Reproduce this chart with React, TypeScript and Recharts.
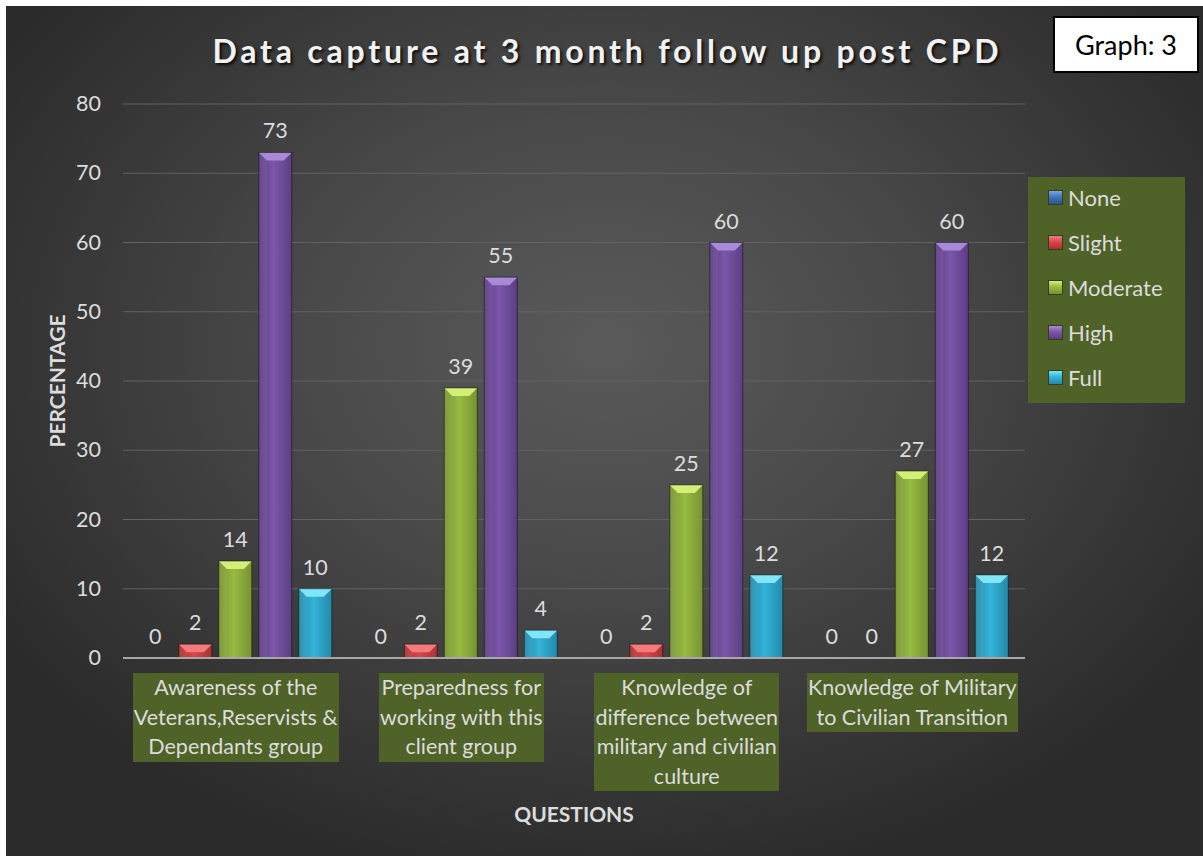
import React from "react";
import {
  BarChart,
  Bar,
  XAxis,
  YAxis,
  CartesianGrid,
  LabelList,
} from "recharts";

// question labels, split the way the original wraps them
const QUESTIONS = [
  ["Awareness of the", "Veterans,Reservists &", "Dependants group"],
  ["Preparedness for", "working with this", "client group"],
  ["Knowledge of", "difference between", "military and civilian", "culture"],
  ["Knowledge of Military", "to Civilian Transition"],
];

const NONE = [0, 0, 0, 0];
const SLIGHT = [2, 2, 2, 0];
const MODERATE = [14, 39, 25, 27];
const HIGH = [73, 55, 60, 60];
const FULL = [10, 4, 12, 12];

const Y_TICKS = [0, 10, 20, 30, 40, 50, 60, 70, 80];

const SERIES = [
  { key: "None", values: NONE, base: "#3f74bf", dark: "#2b558f", top: "#7aa6e6" },
  { key: "Slight", values: SLIGHT, base: "#d9474a", dark: "#a83234", top: "#f47b7d" },
  { key: "Moderate", values: MODERATE, base: "#98bb43", dark: "#76932f", top: "#d3ef76" },
  { key: "High", values: HIGH, base: "#7c56aa", dark: "#5c3e83", top: "#a98ad6" },
  { key: "Full", values: FULL, base: "#33b4da", dark: "#2489a8", top: "#80e6f8" },
];

const data = QUESTIONS.map((q, i) => {
  const row: any = { q: q.join("\n") };
  SERIES.forEach((s) => (row[s.key] = s.values[i]));
  return row;
});

const FONT = "Lato, 'Open Sans', sans-serif";
const TEXT = "#dcdcdc";
const OLIVE = "#4f6228";

function BevelBar(props: any) {
  const { x, y, width, height, s } = props;
  if (!height || height <= 0) return null;
  const b = Math.min(8, width / 4, height);
  return (
    <g>
      <rect x={x} y={y} width={width} height={height} fill={`url(#g-${s.key})`} />
      <polygon
        points={`${x},${y} ${x + width},${y} ${x + width - b},${y + b} ${x + b},${y + b}`}
        fill={s.top}
      />
      <polygon
        points={`${x},${y} ${x + b},${y + b} ${x + b},${y + height} ${x},${y + height}`}
        fill="rgba(255,255,255,0.06)"
      />
      <rect
        x={x}
        y={y}
        width={width}
        height={height}
        fill="none"
        stroke="rgba(0,0,0,0.45)"
        strokeWidth={1}
      />
    </g>
  );
}

function YTick({ x, y, payload }: any) {
  return (
    <text x={x} y={y} dy={7} textAnchor="end" fill={TEXT} fontSize={21.5} fontFamily={FONT}>
      {payload.value}
    </text>
  );
}

function QuestionTick({ x, y, payload }: any) {
  const lines = String(payload.value).split("\n");
  return (
    <foreignObject x={x - 160} y={y + 7} width={320} height={140}>
      <div style={{ textAlign: "center", fontFamily: FONT, fontSize: 21.5, lineHeight: "29.6px" }}>
        <span
          style={{
            display: "inline-block",
            background: OLIVE,
            color: TEXT,
            padding: "0 1px",
          }}
        >
          {lines.map((l, i) => (
            <div key={i}>{l}</div>
          ))}
        </span>
      </div>
    </foreignObject>
  );
}

function LegendBox() {
  return (
    <div
      style={{
        position: "absolute",
        left: 1022,
        top: 171,
        background: OLIVE,
        width: 157,
        height: 226,
        boxSizing: "border-box",
        fontFamily: FONT,
      }}
    >
      {SERIES.map((s) => (
        <div
          key={s.key}
          style={{
            height: 45,
            display: "flex",
            alignItems: "center",
            paddingLeft: 21,
            marginTop: s.key === "None" ? -2 : 0,
          }}
        >
          <span
            style={{
              width: 13,
              height: 13,
              marginRight: 6,
              background: `linear-gradient(180deg, ${s.top} 0%, ${s.base} 45%, ${s.dark} 100%)`,
              boxShadow: "0 0 0 1px rgba(0,0,0,0.35)",
            }}
          />
          <span style={{ color: TEXT, fontSize: 22 }}>{s.key}</span>
        </div>
      ))}
    </div>
  );
}

export default function App() {
  return (
    <div
      style={{
        position: "absolute",
        left: 6,
        top: 6,
        width: 1197,
        height: 850,
        background:
          "radial-gradient(ellipse 70% 75% at 50% 40%, #5a5a5a 0%, #4a4a4a 35%, #2b2b2b 85%)",
        overflow: "hidden",
      }}
    >
      <div
        style={{
          position: "absolute",
          left: 0,
          width: 1203,
          top: 25,
          textAlign: "center",
          color: "#f2f2f2",
          fontFamily: FONT,
          fontWeight: 700,
          fontSize: 32,
          letterSpacing: 3.8,
          textShadow: "2px 2px 3px rgba(0,0,0,0.8)",
        }}
      >
        Data capture at 3 month follow up post CPD
      </div>
      <div
        style={{
          position: "absolute",
          left: 1047,
          top: 10,
          width: 146,
          height: 57,
          boxSizing: "border-box",
          background: "#fff",
          border: "2px solid #000",
          color: "#000",
          fontFamily: FONT,
          fontSize: 27,
          display: "flex",
          alignItems: "center",
          justifyContent: "center",
        }}
      >
        Graph: 3
      </div>

      <BarChart
        width={1197}
        height={850}
        data={data}
        margin={{ top: 98, right: 178, bottom: 0, left: 0 }}
        barGap={7}
        barCategoryGap="7%"
        style={{ position: "absolute", left: 0, top: 0 }}
      >
        <defs>
          {SERIES.map((s) => (
            <linearGradient key={s.key} id={`g-${s.key}`} x1="0" y1="0" x2="1" y2="0">
              <stop offset="0%" stopColor={s.dark} />
              <stop offset="45%" stopColor={s.base} />
              <stop offset="100%" stopColor={s.dark} />
            </linearGradient>
          ))}
        </defs>
        <CartesianGrid vertical={false} stroke="#626262" strokeWidth={1} />
        <XAxis
          dataKey="q"
          height={198}
          axisLine={{ stroke: "#a8a8a8", strokeWidth: 2 }}
          tickLine={false}
          tick={<QuestionTick />}
          interval={0}
          label={{
            value: "QUESTIONS",
            position: "insideBottom",
            offset: 34,
            fill: TEXT,
            fontSize: 21,
            fontWeight: 700,
            fontFamily: FONT,
          }}
        />
        <YAxis
          width={117}
          domain={[0, 80]}
          ticks={Y_TICKS}
          axisLine={false}
          tickLine={false}
          tickSize={0}
          tickMargin={22}
          tick={<YTick />}
          label={{
            value: "PERCENTAGE",
            angle: -90,
            position: "insideLeft",
            offset: 52,
            fill: TEXT,
            fontSize: 21,
            fontWeight: 700,
            fontFamily: FONT,
            style: { textAnchor: "middle" },
          }}
        />
        {SERIES.map((s) => (
          <Bar
            key={s.key}
            dataKey={s.key}
            fill={s.base}
            isAnimationActive={false}
            shape={(p: any) => <BevelBar {...p} s={s} />}
          >
            <LabelList
              dataKey={s.key}
              position="top"
              offset={14}
              fill={TEXT}
              fontSize={21.5}
              fontFamily={FONT}
            />
          </Bar>
        ))}
      </BarChart>
      <LegendBox />
    </div>
  );
}
